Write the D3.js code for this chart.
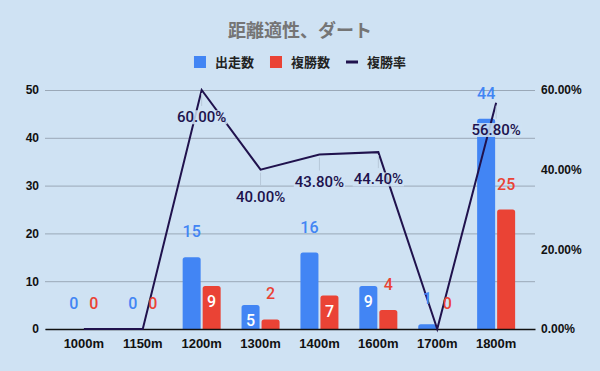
<!DOCTYPE html>
<html>
<head>
<meta charset="utf-8">
<script src="https://cdn.jsdelivr.net/npm/d3@7"></script>
<style>
  html, body { margin: 0; padding: 0; background: #cfe2f3; }
  svg { display: block; }
</style>
</head>
<body>
<div id="chart"></div>
<script>
// data
const categories = ["1000m", "1150m", "1200m", "1300m", "1400m", "1600m", "1700m", "1800m"]
const starts = [0, 0, 15, 5, 16, 9, 1, 44]        // 出走数
const places = [0, 0, 9, 2, 7, 4, 0, 25]          // 複勝数
const placeRate = [0, 0, 60.0, 40.0, 43.8, 44.4, 0, 56.8] // 複勝率 (%)
const leftTicks = [0, 10, 20, 30, 40, 50]
const rightTicks = [0, 20, 40, 60]
const seriesNames = ["出走数", "複勝数", "複勝率"]
// bar labels drawn inside the bar (white) instead of above it
const insideLabels = { "出走数": ["1300m", "1600m"], "複勝数": ["1200m", "1400m"] }

const width = 600, height = 371
const margins = { left: 45, right: 65, top: 90, bottom: 42 }
const colors = { bg: "#cfe2f3", blue: "#4285f4", red: "#ea4335", line: "#20124d", grid: "#9aa8b7" }
const numFont = "Roboto, 'Noto Sans CJK JP', sans-serif"
const axisFont = "'Liberation Sans', Arial, sans-serif"
const cjkFont = "'Noto Sans CJK JP', sans-serif"

const svg = d3.select("#chart").append("svg").attr("width", width).attr("height", height)
svg.append("rect").attr("width", width).attr("height", height).attr("fill", colors.bg)

// scales
const x = d3.scaleBand().domain(categories)
  .range([margins.left, width - margins.right]).paddingInner(0).paddingOuter(0.16)
const xSub = d3.scaleBand().domain(seriesNames.slice(0, 2)).range([0, 38]).paddingInner(0.1)
const yLeft = d3.scaleLinear().domain([0, 50]).range([height - margins.bottom, margins.top])
const yRight = d3.scaleLinear().domain([0, 60]).range([height - margins.bottom, margins.top])
const cx = (c) => x(c) + x.bandwidth() / 2

// title
svg.append("text").attr("x", width / 2).attr("y", 37).attr("text-anchor", "middle")
  .attr("font-family", cjkFont).attr("font-weight", "bold").attr("font-size", 18)
  .attr("fill", "#757575").text("距離適性、ダート")

// legend
const legend = svg.append("g")
let lx = 0
seriesNames.forEach((name, i) => {
  const g = legend.append("g").attr("transform", `translate(${lx},0)`)
  if (i < 2) {
    g.append("rect").attr("x", 0).attr("y", -6).attr("width", 12).attr("height", 12)
      .attr("fill", i === 0 ? colors.blue : colors.red)
  } else {
    g.append("rect").attr("x", 0).attr("y", -1.5).attr("width", 12).attr("height", 3).attr("fill", colors.line)
  }
  const t = g.append("text").attr("x", 21).attr("y", 5).attr("font-family", cjkFont)
    .attr("font-size", 13).attr("font-weight", "bold").attr("fill", "#222").text(name)
  lx += 21 + t.node().getComputedTextLength() + 16
})
const legendW = lx - 16
legend.attr("transform", `translate(${(width - legendW) / 2},62)`)

// gridlines + left axis
const yAxisL = svg.append("g").attr("transform", `translate(${margins.left},0)`)
  .call(d3.axisLeft(yLeft).tickValues(leftTicks).tickSize(-(width - margins.left - margins.right)).tickPadding(6))
yAxisL.select(".domain").remove()
yAxisL.selectAll(".tick line").attr("stroke", colors.grid).attr("stroke-width", 1)
yAxisL.selectAll(".tick text").attr("font-family", axisFont).attr("font-weight", "bold")
  .attr("font-size", 12).attr("fill", "#111")

// right axis
const yAxisR = svg.append("g").attr("transform", `translate(${width - margins.right},0)`)
  .call(d3.axisRight(yRight).tickValues(rightTicks).tickSize(0).tickPadding(6)
    .tickFormat((d) => d.toFixed(2) + "%"))
yAxisR.select(".domain").remove()
yAxisR.selectAll(".tick text").attr("font-family", axisFont).attr("font-weight", "bold")
  .attr("font-size", 12).attr("fill", "#111")

// bars
const barPath = (x0, w, y0, y1, r) => {
  const h = y1 - y0
  if (h <= 0) return ""
  const rr = Math.min(r, h, w / 2)
  return `M${x0},${y1}V${y0 + rr}Q${x0},${y0} ${x0 + rr},${y0}H${x0 + w - rr}Q${x0 + w},${y0} ${x0 + w},${y0 + rr}V${y1}Z`
}
const barData = []
categories.forEach((c, i) => {
  barData.push({ cat: c, series: "出走数", value: starts[i], color: colors.blue })
  barData.push({ cat: c, series: "複勝数", value: places[i], color: colors.red })
})
const bx = (d) => cx(d.cat) - 19 + xSub(d.series)
svg.append("g").selectAll("path").data(barData).join("path")
  .attr("d", (d) => barPath(bx(d), xSub.bandwidth(), yLeft(d.value), yLeft(0), 2.5))
  .attr("fill", (d) => d.color)

// x axis (zero line)
const xAxis = svg.append("g").attr("transform", `translate(0,${yLeft(0)})`)
  .call(d3.axisBottom(x).tickSize(0).tickPadding(10))
xAxis.select(".domain").attr("stroke", "#111").attr("stroke-width", 1.3)
xAxis.selectAll(".tick text").attr("font-family", axisFont).attr("font-weight", "bold")
  .attr("font-size", 13).attr("fill", "#111")

// rate line
const line = d3.line().x((d, i) => cx(categories[i])).y((d) => yRight(d))
svg.append("path").datum(placeRate).attr("d", line).attr("fill", "none")
  .attr("stroke", colors.line).attr("stroke-width", 2).attr("stroke-linejoin", "miter")

// bar value labels
svg.append("g").selectAll("text").data(barData).join("text")
  .attr("x", (d) => bx(d) + xSub.bandwidth() / 2)
  .attr("y", (d) => insideLabels[d.series].includes(d.cat) ? yLeft(d.value) + 21 : yLeft(d.value) - 20)
  .attr("text-anchor", "middle").attr("font-family", numFont).attr("font-weight", 500)
  .attr("font-size", 16)
  .attr("fill", (d) => insideLabels[d.series].includes(d.cat) ? "#fff" : d.color)
  .text((d) => d.value)

// rate labels
const rateData = placeRate.map((v, i) => ({ cat: categories[i], value: v })).filter((d) => d.value > 0)
const rl = svg.append("g")
rl.selectAll("line").data(rateData).join("line")
  .attr("x1", (d) => cx(d.cat)).attr("x2", (d) => cx(d.cat))
  .attr("y1", (d) => yRight(d.value) + 3).attr("y2", (d) => yRight(d.value) + 16)
  .attr("stroke", "#b7c8d9").attr("stroke-width", 1)
const rg = rl.selectAll("g").data(rateData).join("g")
  .attr("transform", (d) => `translate(${cx(d.cat)},${yRight(d.value) + 27})`)
const rt = rg.append("text").attr("text-anchor", "middle").attr("dy", "0.35em")
  .attr("font-family", numFont).attr("font-weight", 500).attr("font-size", 15)
  .attr("fill", colors.line).text((d) => d.value.toFixed(2) + "%")
rg.insert("rect", "text").each(function () {
  const b = this.parentNode.querySelector("text").getBBox()
  d3.select(this).attr("x", b.x - 1).attr("y", b.y + 2).attr("width", b.width + 2).attr("height", b.height - 4)
    .attr("fill", colors.bg).attr("opacity", 0.85)
})
</script>
</body>
</html>
